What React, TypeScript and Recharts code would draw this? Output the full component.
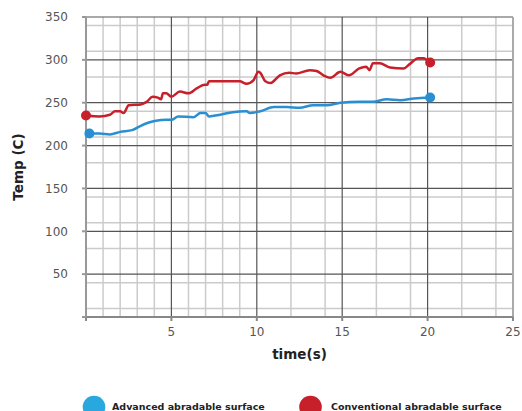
import React from 'react';
import { LineChart, Line, XAxis, YAxis, CartesianGrid, Label } from 'recharts';

// Advanced abradable surface (blue)
const blueTime = [0.2, 0.8, 1.4, 2.0, 2.7, 3.2, 3.55, 4.1, 4.7, 5.0, 5.4, 6.3, 6.7, 7.0, 7.2, 7.85, 8.6, 9.4, 9.6, 10.2, 11.0, 11.75, 12.5, 13.3, 14.1, 14.9, 16.0, 16.8, 17.6, 18.4, 19.2, 20.15];
const blueTemp = [214, 214, 213, 216, 218, 223, 226, 229, 230, 230, 234, 233, 238, 238, 234, 236, 239, 240, 238, 240, 245, 245, 244, 247, 247, 250, 251, 251, 254, 253, 255, 256];

// Conventional abradable surface (red)
const redTime = [0, 0.8, 1.4, 1.7, 2.0, 2.2, 2.5, 3.2, 3.55, 3.9, 4.2, 4.4, 4.5, 4.7, 5.0, 5.5, 6.0, 6.5, 6.95, 7.1, 7.2, 7.85, 8.6, 9.0, 9.4, 9.8, 10.1, 10.2, 10.5, 10.8, 11.35, 11.9, 12.3, 13.1, 13.5, 13.9, 14.3, 14.9, 15.4, 16.0, 16.4, 16.6, 16.8, 17.2, 17.8, 18.6, 18.95, 19.45, 19.75, 20.15];
const redTemp = [235, 234, 236, 240, 240, 238, 247, 248, 251, 257, 256, 254, 261, 261, 257, 263, 261, 267, 271, 271, 275, 275, 275, 275, 272, 276, 286, 285, 275, 273, 282, 285, 284, 288, 287, 282, 279, 286, 282, 290, 292, 288, 296, 296, 291, 290, 295, 302, 302, 297];

const xTicks = [0, 5, 10, 15, 20, 25];
const yTicks = [0, 50, 100, 150, 200, 250, 300, 350];
const xMinor = [1, 2, 3, 4, 6, 7, 8, 9, 11, 12, 13, 14, 16, 17, 18, 19, 21, 22, 23, 24];
const yMinor = [10, 20, 30, 40, 60, 70, 80, 90, 110, 120, 130, 140, 160, 170, 180, 190, 210, 220, 230, 240, 260, 270, 280, 290, 310, 320, 330, 340];
const xMajor = [5, 10, 15, 20];
const yMajor = [50, 100, 150, 200, 250, 300, 350];

const blueData = blueTime.map((t, i) => ({ t, v: blueTemp[i] }));
const redData = redTime.map((t, i) => ({ t, v: redTemp[i] }));

const BLUE = '#2a8fd2';
const RED = '#c7202a';
const FONT = '"DejaVu Sans", sans-serif';

const endDots = (color: string, last: number) => (props: any) => {
  const { cx, cy, index } = props;
  if (index !== 0 && index !== last) return <g key={`d-${index}`} />;
  return <circle key={`d-${index}`} cx={cx} cy={cy} r={5} fill={color} stroke="none" />;
};

const App: React.FC = () => {
  return (
    <div style={{ position: 'absolute', left: 0, top: 0, width: 522, height: 411, background: '#fff' }}>
      <LineChart width={522} height={411} margin={{ top: 17, right: 9, left: 0, bottom: 0 }}>
        <CartesianGrid horizontalValues={yMinor} verticalValues={xMinor} stroke="#cbcbcb" strokeWidth={1.5} />
        <CartesianGrid horizontalValues={yMajor} verticalValues={xMajor} stroke="#555" strokeWidth={1.2} />
        <CartesianGrid horizontal={false} verticalValues={[25]} stroke="#aaa" strokeWidth={2} />
        <XAxis
          type="number"
          dataKey="t"
          domain={[0, 25]}
          ticks={xTicks}
          allowDuplicatedCategory={false}
          tickFormatter={(v) => (v === 0 ? '' : String(v))}
          height={94}
          tickSize={4}
          tickMargin={6}
          stroke="#888"
          strokeWidth={2}
          tick={{ fill: '#555', fontSize: 12, fontFamily: FONT }}
        >
          <Label
            value="time(s)"
            position="insideTop"
            offset={32}
            style={{ fill: '#222', fontSize: 13.5, fontWeight: 'bold', fontFamily: FONT }}
          />
        </XAxis>
        <YAxis
          type="number"
          domain={[0, 350]}
          ticks={yTicks}
          tickFormatter={(v) => (v === 0 ? '' : String(v))}
          width={86}
          tickSize={4}
          tickMargin={14}
          stroke="#999"
          strokeWidth={2}
          tick={{ fill: '#555', fontSize: 12, fontFamily: FONT }}
        >
          <Label
            content={() => (
              <text
                transform="translate(23,167) rotate(-90)"
                textAnchor="middle"
                fill="#222"
                fontSize={13.5}
                fontWeight="bold"
                fontFamily={FONT}
              >
                Temp (C)
              </text>
            )}
          />
        </YAxis>
        <Line
          data={blueData}
          dataKey="v"
          type="monotone"
          stroke={BLUE}
          strokeWidth={2.5}
          dot={endDots(BLUE, blueData.length - 1)}
          activeDot={false}
          isAnimationActive={false}
        />
        <Line
          data={redData}
          dataKey="v"
          type="monotone"
          stroke={RED}
          strokeWidth={2.5}
          dot={endDots(RED, redData.length - 1)}
          activeDot={false}
          isAnimationActive={false}
        />
      </LineChart>
      <svg width={522} height={30} style={{ position: 'absolute', left: 0, top: 381 }}>
        <circle cx={94} cy={26} r={11.3} fill="#29a8e0" />
        <text x={112} y={29} fontSize={9.5} fontWeight="bold" fill="#222" fontFamily={FONT}>
          Advanced abradable surface
        </text>
        <circle cx={310.5} cy={26} r={11.3} fill={RED} />
        <text x={331} y={29} fontSize={9.5} fontWeight="bold" fill="#222" fontFamily={FONT}>
          Conventional abradable surface
        </text>
      </svg>
    </div>
  );
};

export default App;
